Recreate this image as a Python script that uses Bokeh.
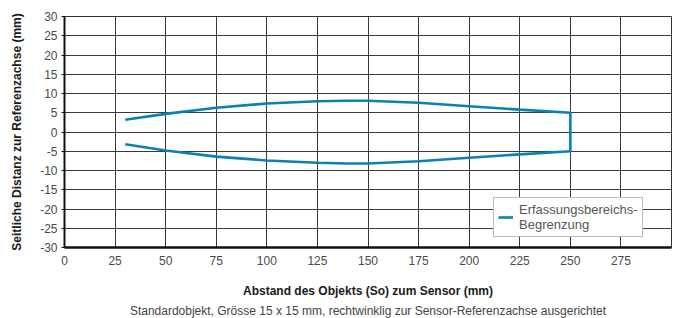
from bokeh.plotting import figure
from bokeh.models import Range1d, FixedTicker, Legend, LegendItem, Title
from bokeh.embed import file_html
from bokeh.resources import INLINE

# data
x_upper = [30, 50, 75, 100, 125, 140, 150, 175, 200, 225, 250]
y_upper = [3.2, 4.7, 6.3, 7.4, 8.0, 8.1, 8.1, 7.6, 6.7, 5.8, 5.0]
x_lower = [30, 50, 75, 100, 125, 140, 150, 175, 200, 225, 250]
y_lower = [-3.2, -4.8, -6.4, -7.4, -8.0, -8.2, -8.2, -7.6, -6.7, -5.8, -5.0]
x_ticks = [0, 25, 50, 75, 100, 125, 150, 175, 200, 225, 250, 275]
y_ticks = [-30, -25, -20, -15, -10, -5, 0, 5, 10, 15, 20, 25, 30]
legend_label = "Erfassungsbereichs-\nBegrenzung"
x_title = "Abstand des Objekts (So) zum Sensor (mm)"
y_title = "Seitliche Distanz zur Referenzachse (mm)"
caption = "Standardobjekt, Grösse 15 x 15 mm, rechtwinklig zur Sensor-Referenzachse ausgerichtet"

FONT = "Liberation Sans"
BLUE = "#0b80b5"

p = figure(width=675, height=318, output_backend="svg", toolbar_location=None,
           x_range=Range1d(0, 300), y_range=Range1d(-30, 30),
           min_border_left=64, min_border_top=16, min_border_right=4, min_border_bottom=71)
p.background_fill_color = "white"
p.border_fill_color = "white"
p.outline_line_color = "#333333"
p.outline_line_width = 1

# single path: upper boundary, vertical closing at far end, lower boundary back
path_x = x_upper + x_lower[::-1]
path_y = y_upper + y_lower[::-1]
r = p.line(path_x, path_y, line_color=BLUE, line_width=2.6)

for ax in (p.xaxis[0], p.yaxis[0]):
    ax.major_label_text_font = FONT
    ax.major_label_text_font_size = "12px"
    ax.major_label_text_color = "#4a4a4a"
    ax.axis_label_text_font = FONT
    ax.axis_label_text_font_size = "12px"
    ax.axis_label_text_font_style = "bold"
    ax.axis_label_text_color = "#1a1a1a"
    ax.minor_tick_line_color = None
    ax.axis_line_color = "#111111"

p.xaxis.ticker = FixedTicker(ticks=x_ticks)
p.yaxis.ticker = FixedTicker(ticks=y_ticks)
p.yaxis.major_label_overrides = {t: str(t) for t in y_ticks}
p.xaxis.major_label_overrides = {t: str(t) for t in x_ticks}
p.xaxis.axis_label = x_title
p.yaxis.axis_label = y_title
p.xaxis.axis_line_width = 2.5
p.yaxis.axis_line_width = 2
p.xaxis.major_tick_line_color = None
p.xaxis.major_tick_out = 0
p.xaxis.major_tick_in = 0
p.xaxis.major_label_standoff = 8
p.xaxis.axis_label_standoff = 16
p.yaxis.major_tick_out = 3
p.yaxis.major_tick_in = 0
p.yaxis.major_tick_line_color = "#111111"
p.yaxis.major_label_standoff = 4
p.yaxis.axis_label_standoff = 13

p.xgrid.ticker = FixedTicker(ticks=x_ticks)
p.ygrid.ticker = FixedTicker(ticks=y_ticks)
for g in (p.xgrid[0], p.ygrid[0]):
    g.grid_line_color = "#3a3a3a"
    g.grid_line_width = 1
    g.grid_line_alpha = 1

legend = Legend(items=[LegendItem(label=legend_label, renderers=[r])],
                location=(429, 10))
legend.label_text_font = FONT
legend.label_text_font_size = "13px"
legend.label_text_color = "#555555"
legend.border_line_color = "#777777"
legend.border_line_width = 1
legend.background_fill_alpha = 1
legend.glyph_width = 15
legend.padding = 4
legend.margin = 0
legend.spacing = 0
legend.label_standoff = 6
p.add_layout(legend, "center")

t = Title(text=caption, align="center", text_font=FONT, text_font_size="12px",
          text_font_style="normal", text_color="#444444", standoff=2, offset=0)
p.add_layout(t, "below")

open("out.html", "w").write(file_html(p, INLINE))
